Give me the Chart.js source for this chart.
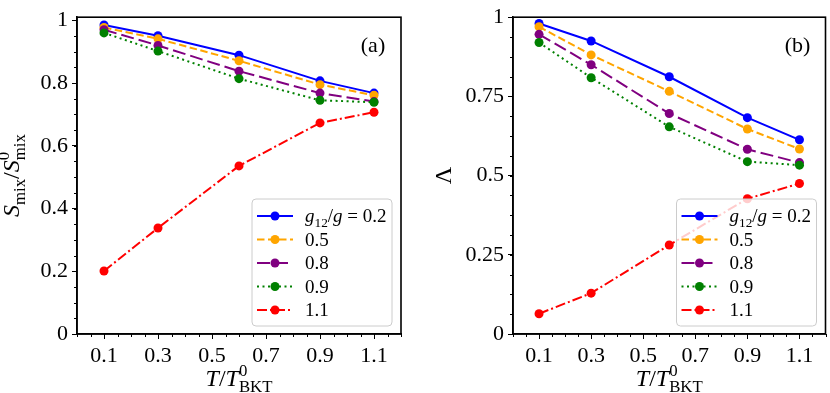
<!DOCTYPE html>
<html>
<head>
<meta charset="utf-8">
<script src="https://cdn.jsdelivr.net/npm/chart.js@4.4.0/dist/chart.umd.min.js"></script>
<style>
  html, body { margin: 0; padding: 0; background: #fff; }
  #wrap { position: relative; width: 830px; height: 393px; }
  .box { position: absolute; top: 0; width: 415px; height: 393px; }
</style>
</head>
<body>
<div id="wrap">
  <div class="box" style="left:0"><canvas id="chartA"></canvas></div>
  <div class="box" style="left:415px"><canvas id="chartB"></canvas></div>
</div>
<script>
const SERIF = "'Liberation Serif', 'DejaVu Serif', serif";

// shared x values (T / T0_BKT) and series styling
const temps = [0.1, 0.3, 0.6, 0.9, 1.1];
const ratios = ['0.2', '0.5', '0.8', '0.9', '1.1'];
const colors = ['#0000ff', '#ffa500', '#800080', '#008000', '#ff0000'];
const dashes = [[], [7.5, 3.5], [13, 5], [2, 3.5], [10, 3, 2, 3]];

const xTicks = [0.1, 0.3, 0.5, 0.7, 0.9, 1.1];
const xTickLabels = ['0.1', '0.3', '0.5', '0.7', '0.9', '1.1'];

// panel (a): S_mix / S0_mix
const sMix02 = [0.985, 0.951, 0.889, 0.807, 0.768];
const sMix05 = [0.977, 0.941, 0.871, 0.795, 0.761];
const sMix08 = [0.970, 0.920, 0.838, 0.768, 0.741];
const sMix09 = [0.960, 0.902, 0.814, 0.745, 0.739];
const sMix11 = [0.201, 0.338, 0.536, 0.673, 0.707];
const yTicksA = [0, 0.2, 0.4, 0.6, 0.8, 1];
const yTickLabelsA = ['0', '0.2', '0.4', '0.6', '0.8', '1'];

// panel (b): Lambda
const lam02 = [0.980, 0.925, 0.812, 0.683, 0.613];
const lam05 = [0.970, 0.881, 0.766, 0.647, 0.584];
const lam08 = [0.946, 0.850, 0.696, 0.583, 0.541];
const lam09 = [0.920, 0.809, 0.654, 0.544, 0.533];
const lam11 = [0.064, 0.129, 0.281, 0.427, 0.475];
const yTicksB = [0, 0.25, 0.5, 0.75, 1];
const yTickLabelsB = ['0', '0.25', '0.5', '0.75', '1'];

function makeDatasets(series) {
  return series.map((vals, i) => ({
    label: ratios[i],
    data: vals.map((v, j) => ({ x: temps[j], y: v })),
    borderColor: colors[i],
    backgroundColor: colors[i],
    borderWidth: 2,
    borderDash: dashes[i],
    pointRadius: 4.5,
    pointBorderWidth: 0,
    pointBackgroundColor: colors[i],
    tension: 0,
    order: series.length - i
  }));
}

// draw a small piece of math: parts are {t, it} or {sup, sub}
function drawMath(ctx, parts, x, y, fs, align) {
  const small = fs * 0.7;
  const items = parts.map(p => {
    if (p.t === undefined) {
      ctx.font = `${small}px ${SERIF}`;
      const w = Math.max(p.sup ? ctx.measureText(p.sup).width : 0,
                         p.sub ? ctx.measureText(p.sub).width : 0);
      return { p, w };
    }
    ctx.font = `${p.it ? 'italic ' : ''}${fs}px ${SERIF}`;
    return { p, w: ctx.measureText(p.t).width };
  });
  const total = items.reduce((s, it) => s + it.w, 0);
  let cx = align === 'center' ? x - total / 2 : x;
  ctx.textAlign = 'left';
  ctx.textBaseline = 'alphabetic';
  items.forEach(({ p, w }) => {
    if (p.t === undefined) {
      ctx.font = `${small}px ${SERIF}`;
      if (p.sup) ctx.fillText(p.sup, cx, y - fs * 0.42);
      if (p.sub) ctx.fillText(p.sub, cx, y + fs * 0.24);
    } else {
      ctx.font = `${p.it ? 'italic ' : ''}${fs}px ${SERIF}`;
      ctx.fillText(p.t, cx, y);
    }
    cx += w;
  });
}

const xTitle = [{ t: 'T', it: true }, { t: '/' }, { t: 'T', it: true }, { sup: '0', sub: 'BKT' }];

function decor(cfg) {
  return {
    id: 'decor',
    afterDatasetsDraw(chart) {
      const { ctx, chartArea: a, scales: { x, y } } = chart;
      ctx.save();
      ctx.fillStyle = '#000';
      ctx.strokeStyle = '#000';

      // minor ticks
      ctx.lineWidth = 1;
      ctx.beginPath();
      for (let k = 0; k <= 24; k++) {
        const px = Math.round(x.getPixelForValue(k * 0.05)) + 0.5;
        ctx.moveTo(px, a.bottom);
        ctx.lineTo(px, a.bottom + 3);
      }
      for (let k = 0; k * cfg.yMinor <= y.max + 1e-9; k++) {
        const py = Math.round(y.getPixelForValue(k * cfg.yMinor)) + 0.5;
        ctx.moveTo(a.left, py);
        ctx.lineTo(a.left - 3, py);
      }
      ctx.stroke();

      // frame
      ctx.lineWidth = 1.6;
      ctx.strokeRect(a.left, a.top, a.right - a.left, a.bottom - a.top);

      // legend
      const bw = 140, bh = 127;
      const bx = a.right - 9 - bw, by = a.bottom - 8 - bh;
      ctx.beginPath();
      ctx.roundRect(bx, by, bw, bh, 4);
      ctx.fillStyle = 'rgba(255,255,255,0.8)';
      ctx.fill();
      ctx.lineWidth = 1;
      ctx.strokeStyle = '#cccccc';
      ctx.stroke();
      chart.data.datasets.forEach((ds, i) => {
        const ry = by + 17 + i * 23.5;
        ctx.strokeStyle = ds.borderColor;
        ctx.lineWidth = 2;
        ctx.setLineDash(ds.borderDash);
        ctx.beginPath();
        ctx.moveTo(bx + 5, ry);
        ctx.lineTo(bx + 41, ry);
        ctx.stroke();
        ctx.setLineDash([]);
        ctx.fillStyle = ds.borderColor;
        ctx.beginPath();
        ctx.arc(bx + 23, ry, 4.5, 0, Math.PI * 2);
        ctx.fill();
        ctx.fillStyle = '#000';
        const parts = i === 0
          ? [{ t: 'g', it: true }, { sub: '12' }, { t: '/' }, { t: 'g', it: true }, { t: ' = ' + ds.label }]
          : [{ t: ds.label }];
        drawMath(ctx, parts, bx + 53, ry + 6, 19, 'left');
      });

      // panel label
      ctx.fillStyle = '#000';
      ctx.font = `22px ${SERIF}`;
      ctx.textAlign = 'center';
      ctx.textBaseline = 'middle';
      ctx.fillText(cfg.panel, a.right - 28, a.top + 29);

      // x title
      drawMath(ctx, xTitle, (a.left + a.right) / 2, 386, 24, 'center');

      // y title
      ctx.translate(cfg.yTitleX, (a.top + a.bottom) / 2);
      ctx.rotate(-Math.PI / 2);
      drawMath(ctx, cfg.yTitle, 0, 0, 24, 'center');
      ctx.restore();
    }
  };
}

function makeChart(id, series, opts) {
  const ctx = document.getElementById(id).getContext('2d');
  return new Chart(ctx, {
    type: 'line',
    data: { datasets: makeDatasets(series) },
    options: {
      responsive: true,
      maintainAspectRatio: false,
      animation: false,
      layout: { padding: { top: opts.padTop, right: opts.padRight, left: 0, bottom: 0 } },
      plugins: { legend: { display: false }, tooltip: { enabled: false } },
      scales: {
        x: {
          type: 'linear',
          min: 0,
          max: 1.2,
          afterBuildTicks: s => { s.ticks = xTicks.map(v => ({ value: v })); },
          afterFit: s => { s.height = 59; },
          ticks: {
            autoSkip: false,
            maxRotation: 0,
            padding: 4,
            color: '#000',
            font: { family: SERIF, size: 22 },
            callback: (v, i) => xTickLabels[i]
          },
          grid: { drawOnChartArea: false, drawTicks: true, tickLength: 5, tickColor: '#000', tickWidth: 1 },
          border: { display: true, color: '#000', width: 1.6 }
        },
        y: {
          type: 'linear',
          min: 0,
          max: opts.yMax,
          afterBuildTicks: s => { s.ticks = opts.yTicks.map(v => ({ value: v })); },
          afterFit: s => { s.width = opts.yWidth; },
          ticks: {
            autoSkip: false,
            padding: 4,
            color: '#000',
            font: { family: SERIF, size: 22 },
            callback: (v, i) => opts.yLabels[i]
          },
          grid: { drawOnChartArea: false, drawTicks: true, tickLength: 5, tickColor: '#000', tickWidth: 1 },
          border: { display: true, color: '#000', width: 1.6 }
        }
      }
    },
    plugins: [decor(opts)]
  });
}

makeChart('chartA', [sMix02, sMix05, sMix08, sMix09, sMix11], {
  padTop: 8, padRight: 14, yMax: 1.01, yWidth: 77,
  yTicks: yTicksA, yLabels: yTickLabelsA, yMinor: 0.05,
  panel: '(a)', yTitleX: 19,
  yTitle: [{ t: 'S', it: true }, { sub: 'mix' }, { t: '/' }, { t: 'S', it: true }, { sup: '0', sub: 'mix' }]
});

makeChart('chartB', [lam02, lam05, lam08, lam09, lam11], {
  padTop: 11, padRight: 2, yMax: 1, yWidth: 98,
  yTicks: yTicksB, yLabels: yTickLabelsB, yMinor: 0.0625,
  panel: '(b)', yTitleX: 36,
  yTitle: [{ t: 'Λ' }]
});
</script>
</body>
</html>
